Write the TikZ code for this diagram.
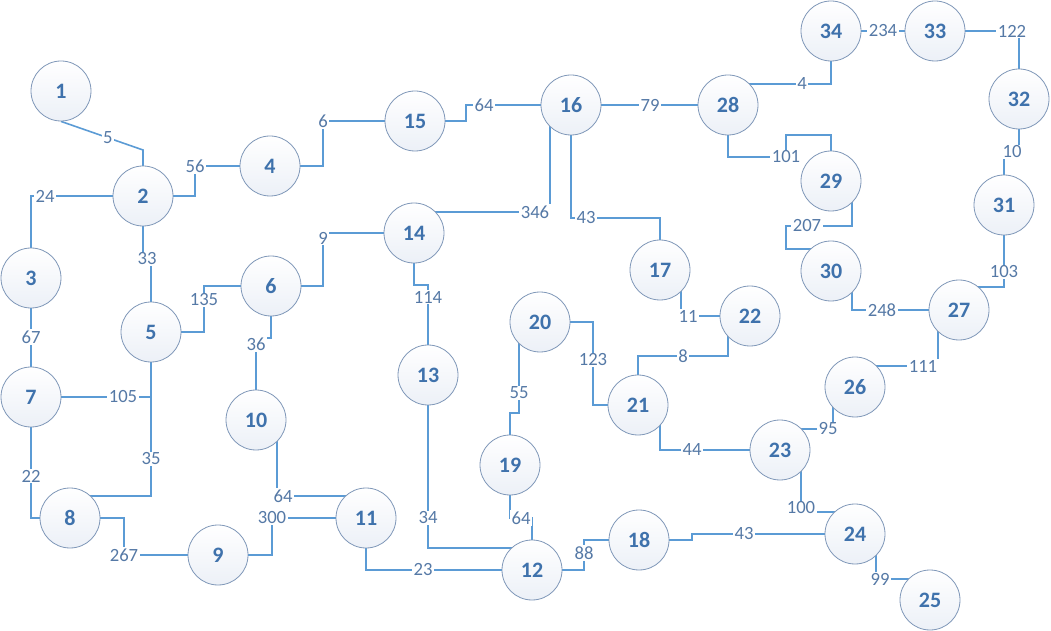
\documentclass[tikz,border=0pt]{standalone}
\usepackage{fontspec}
\setmainfont{Carlito}
\usepackage{tikz}
\usetikzlibrary{arrows,positioning,shapes.geometric,backgrounds}
\pgfdeclarelayer{edgelayer}
\pgfsetlayers{edgelayer,main}
\definecolor{edgeblue}{HTML}{5B9BD5}
\definecolor{numblue}{HTML}{3F72AC}
\definecolor{lblblue}{HTML}{5579A6}
\definecolor{rimgray}{HTML}{7F97B8}
\definecolor{shadeblue}{HTML}{ECF0F7}
\tikzstyle{stn}=[circle,draw=rimgray,line width=0.6pt,top color=white,bottom color=shadeblue,minimum size=45pt,inner sep=0pt,text=numblue,font=\fontsize{16.5}{16.5}\selectfont\bfseries]
\tikzstyle{lbl}=[fill=white,inner sep=1pt,text=lblblue,font=\fontsize{14}{14}\selectfont]
\tikzstyle{wire}=[draw=edgeblue,line width=1.2pt]

\begin{document}
\begin{tikzpicture}[x=0.75pt,y=-0.75pt]
\useasboundingbox (0,0) rectangle (1051,631);
\node[stn] (n1) at (61,91) {1};
\node[stn] (n2) at (143,196) {2};
\node[stn] (n3) at (31,278) {3};
\node[stn] (n4) at (270,166) {4};
\node[stn] (n5) at (151,332) {5};
\node[stn] (n6) at (271,286) {6};
\node[stn] (n7) at (31,397) {7};
\node[stn] (n8) at (70,518) {8};
\node[stn] (n9) at (218,555) {9};
\node[stn] (n10) at (256,420) {10};
\node[stn] (n11) at (366,518) {11};
\node[stn] (n12) at (532,570) {12};
\node[stn] (n13) at (428,375) {13};
\node[stn] (n14) at (414,233) {14};
\node[stn] (n15) at (415,121) {15};
\node[stn] (n16) at (571,105) {16};
\node[stn] (n17) at (660,270) {17};
\node[stn] (n18) at (639,540) {18};
\node[stn] (n19) at (510,465) {19};
\node[stn] (n20) at (540,322) {20};
\node[stn] (n21) at (638,405) {21};
\node[stn] (n22) at (750,316) {22};
\node[stn] (n23) at (780,450) {23};
\node[stn] (n24) at (855,534) {24};
\node[stn] (n25) at (930,600) {25};
\node[stn] (n26) at (855,387) {26};
\node[stn] (n27) at (959,310) {27};
\node[stn] (n28) at (728,105) {28};
\node[stn] (n29) at (831,181) {29};
\node[stn] (n30) at (831,271) {30};
\node[stn] (n31) at (1004,205) {31};
\node[stn] (n32) at (1019,99) {32};
\node[stn] (n33) at (935,31) {33};
\node[stn] (n34) at (831,31) {34};

\begin{pgfonlayer}{edgelayer}
% left part
\draw[wire] (n1.south) -- node[lbl,pos=0.57] {5} (143,150) -- (n2.center);
\draw[wire] (n2.center) -| (195,166) node[lbl] {56} -- (n4.center);
\draw[wire] (n2.center) -- (45,196) node[lbl] {24} -| (n3.center);
\draw[wire] (n2.center) |- (147,259) node[lbl] {33} -| (n5.center);
\draw[wire] (n4.center) -| (323,121) node[lbl] {6} -- (n15.center);
\draw[wire] (n15.center) -| (466,105) -- (484,105) node[lbl] {64} -- (n16.center);
\draw[wire] (n6.center) -| (323,238) node[lbl] {9} |- (n14.center);
\draw[wire] (n5.center) -| (204,300) node[lbl] {135} |- (n6.center);
\draw[wire] (n6.center) |- (256,338) -- (256,344) node[lbl] {36} -- (n10.center);
\draw[wire] (n10.center) ++(21,0) |- (283,496) node[lbl] {64} -| (n11.center);
\draw[wire] (n9.center) -| (272,518) node[lbl] {300} -- (n11.center);
\draw[wire] (n8.center) -| (124,555) node[lbl] {267} -- (n9.center);
\draw[wire] (n8.center) ++(0,-22) -| (151,459) node[lbl] {35} -- (n5.center);
\draw[wire] (n7.center) -- (123,397) node[lbl] {105} -| (n5.center);
\draw[wire] (n3.center) -- (31,337) node[lbl] {67} -- (n7.center);
\draw[wire] (n7.center) -- (31,476) node[lbl] {22} |- (n8.center);
% middle part
\draw[wire] (n14.center) |- (428,285) -- (428,297) node[lbl] {114} -- (n13.center);
\draw[wire] (n14.center) ++(0,-21) -- (535,212) node[lbl] {346} -- (550,212) |- (n16.center);
\draw[wire] (n16.center) |- (586,218) node[lbl] {43} -| (n17.center);
\draw[wire] (n13.center) -- (428,518) node[lbl] {34} -- (428,548) -| (n12.center);
\draw[wire] (n11.center) |- (423,570) node[lbl] {23} -- (n12.center);
\draw[wire] (n12.center) -| (584,553) node[lbl] {88} |- (n18.center);
\draw[wire] (n19.center) |- (521,518) node[lbl] {64} -| (n12.center);
\draw[wire] (n20.center) ++(-21,0) -- (519,393) node[lbl] {55} -- (519,413) -| (n19.center);
\draw[wire] (n20.center) -| (593,360) node[lbl] {123} |- (n21.center);
\draw[wire] (n17.center) ++(21,0) |- (688,316) node[lbl] {11} -- (n22.center);
\draw[wire] (n22.center) ++(-22,0) |- (683,356) node[lbl] {8} -| (n21.center);
\draw[wire] (n21.center) ++(22,0) |- (692,450) node[lbl] {44} -- (n23.center);
\draw[wire] (n18.center) -| (692,534) -- (744,534) node[lbl] {43} -- (n24.center);
% right part
\draw[wire] (n16.center) -- (650,105) node[lbl] {79} -- (n28.center);
\draw[wire] (n28.center) ++(0,-21) -- (802,84) node[lbl] {4} -| (n34.center);
\draw[wire] (n34.center) -- (883,31) node[lbl] {234} -- (n33.center);
\draw[wire] (n33.center) -- (1012,31) node[lbl] {122} -| (n32.center);
\draw[wire] (n32.center) |- (1012,152) node[lbl] {10} -| (n31.center);
\draw[wire] (n31.center) -- (1004,272) node[lbl] {103} -- (1004,287) -| (n27.center);
\draw[wire] (n30.center) ++(21,0) |- (882,310) node[lbl] {248} -- (n27.center);
\draw[wire] (n27.center) ++(-21,0) |- (923,366) node[lbl] {111} -| (n26.center);
\draw[wire] (n26.center) ++(-22,0) |- (828,429) node[lbl] {95} -| (n23.center);
\draw[wire] (n23.center) ++(21,0) -- (801,508) node[lbl] {100} -- (801,512) -| (n24.center);
\draw[wire] (n24.center) ++(21,0) |- (880,579) node[lbl] {99} -| (n25.center);
\draw[wire] (n28.center) |- (786,157) node[lbl] {101} -- (786,135) -| (n29.center);
\draw[wire] (n29.center) ++(21,0) |- (807,226) node[lbl] {207} -- (786,226) -- (786,249) -| (n30.center);
\end{pgfonlayer}
\end{tikzpicture}
\end{document}
